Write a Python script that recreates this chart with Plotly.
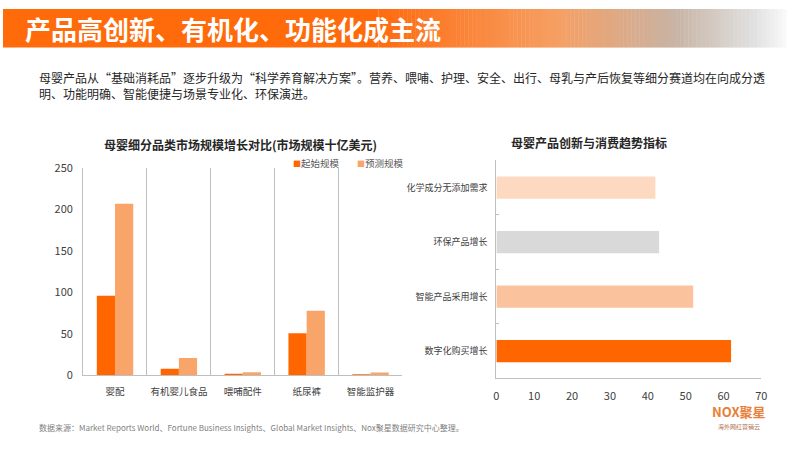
import plotly.graph_objects as go

# ---------------- data ----------------
seg_categories = ["婴配", "有机婴儿食品", "喂哺配件", "纸尿裤", "智能监护器"]
seg_start = [96, 8, 2, 51, 1.5]
seg_forecast = [207, 21, 4, 78, 3.5]
seg_series_names = ["起始规模", "预测规模"]

trend_labels = ["化学成分无添加需求", "环保产品增长", "智能产品采用增长", "数字化购买增长"]
trend_values = [42, 43, 52, 62]
trend_colors = ["#FDD9C1", "#D9D9D9", "#FBC29E", "#FF6600"]

left_yticks = [0, 50, 100, 150, 200, 250]
right_xticks = [0, 10, 20, 30, 40, 50, 60, 70]

FONT = "Noto Sans CJK SC"
C_START = "#FF6600"
C_FORE = "#F9A468"
AX = "#BFBFBF"
TXT = "#404040"

fig = go.Figure()

fig.add_trace(go.Bar(x=seg_categories, y=seg_start, name=seg_series_names[0],
                     marker=dict(color=C_START, line=dict(width=0)),
                     showlegend=False, xaxis="x", yaxis="y"))
fig.add_trace(go.Bar(x=seg_categories, y=seg_forecast, name=seg_series_names[1],
                     marker=dict(color=C_FORE, line=dict(width=0)),
                     showlegend=False, xaxis="x", yaxis="y"))

fig.add_trace(go.Bar(x=trend_values, y=trend_labels, orientation="h",
                     marker=dict(color=trend_colors, line=dict(width=0)),
                     width=0.41, showlegend=False,
                     xaxis="x2", yaxis="y2"))

shapes = []
# header gradient bar (decoration)
stops = [(0, (255, 106, 10)), (390, (255, 110, 20)), (560, (246, 160, 100)),
         (680, (200, 180, 165)), (760, (225, 225, 225)), (792, (250, 250, 250))]
W = 799.0
n_slices = 100
x_start, x_end = 380, 792
shapes.append(dict(type="rect", xref="paper", yref="paper", x0=0, x1=x_start / W,
                   y0=1 - 40 / 450, y1=1, fillcolor="rgb(255,106,10)", line=dict(width=0), layer="below"))
for i in range(n_slices):
    xa = x_start + (x_end - x_start) * i / n_slices
    xb = x_start + (x_end - x_start) * (i + 1) / n_slices
    xm = (xa + xb) / 2
    for j in range(len(stops) - 1):
        if stops[j][0] <= xm <= stops[j + 1][0]:
            t = (xm - stops[j][0]) / (stops[j + 1][0] - stops[j][0])
            c = [int(stops[j][1][k] + (stops[j + 1][1][k] - stops[j][1][k]) * t) for k in range(3)]
            break
    shapes.append(dict(type="rect", xref="paper", yref="paper", x0=xa / W, x1=xb / W + 0.0005,
                       y0=1 - 40 / 450, y1=1, fillcolor=f"rgb({c[0]},{c[1]},{c[2]})",
                       line=dict(width=0), layer="below"))

legend_items = [
    (f"<span style='color:{C_START};font-size:8px'>■</span>{seg_series_names[0]}", 291),
    (f"<span style='color:{C_FORE};font-size:8px'>■</span>{seg_series_names[1]}", 356),
]

annotations = [
    dict(text="<b>产品高创新、有机化、功能化成主流</b>", xref="paper", yref="paper",
         x=20 / W, y=1 - 20 / 450, xanchor="left", yanchor="middle", showarrow=False,
         font=dict(family=FONT, size=26, color="white")),
    dict(text="母婴产品从“基础消耗品”逐步升级为“科学养育解决方案”。营养、喂哺、护理、安全、出行、母乳与产后恢复等细分赛道均在向成分透<br>明、功能明确、智能便捷与场景专业化、环保演进。",
         xref="paper", yref="paper", x=34 / W, y=1 - 79 / 450, xanchor="left", yanchor="middle",
         align="left", showarrow=False, font=dict(family=FONT, size=12, color="#262626")),
    dict(text="<b>母婴细分品类市场规模增长对比(市场规模十亿美元)</b>", xref="paper", yref="paper",
         x=240 / W, y=1 - 140 / 450, xanchor="center", yanchor="middle", showarrow=False,
         font=dict(family=FONT, size=12, color="#262626")),
    dict(text="<b>母婴产品创新与消费趋势指标</b>", xref="paper", yref="paper",
         x=593 / W, y=1 - 138 / 450, xanchor="center", yanchor="middle", showarrow=False,
         font=dict(family=FONT, size=12, color="#262626")),
    dict(text="数据来源：Market Reports World、Fortune Business Insights、Global Market Insights、Nox聚星数据研究中心整理。",
         xref="paper", yref="paper", x=34 / W, y=1 - 434 / 450, xanchor="left", yanchor="middle",
         showarrow=False, font=dict(family=FONT, size=8, color="#7F7F7F")),
    dict(text="<b>NOX聚星</b>", xref="paper", yref="paper", x=744 / W, y=1 - 417 / 450,
         xanchor="center", yanchor="middle", showarrow=False,
         font=dict(family=FONT, size=13, color="#E8803A")),
    dict(text="海外网红营销云", xref="paper", yref="paper", x=744 / W, y=1 - 433 / 450,
         xanchor="center", yanchor="middle", showarrow=False,
         font=dict(family=FONT, size=6, color="#B07050")),
]
for txt, px in legend_items:
    annotations.append(dict(text=txt, xref="paper", yref="paper", x=px / W, y=1 - 160 / 450,
                            xanchor="left", yanchor="middle", showarrow=False,
                            font=dict(family=FONT, size=9.5, color="#595959")))

fig.update_layout(
    width=799, height=450, margin=dict(l=0, r=0, t=0, b=0),
    paper_bgcolor="white", plot_bgcolor="white",
    font=dict(family=FONT, size=10, color=TXT),
    barmode="group", bargap=0.43, bargroupgap=0,
    showlegend=False,
    xaxis=dict(domain=[81 / W, 404 / W], anchor="y", type="category",
               showline=True, linecolor=AX, linewidth=1, tickangle=0,
               tickson="boundaries", ticks="", showgrid=True, gridcolor=AX, gridwidth=1,
               ticklabelstandoff=7,
               tickfont=dict(family=FONT, size=9.5, color=TXT), fixedrange=True),
    yaxis=dict(domain=[1 - 380 / 450, 1 - 165 / 450], anchor="x", range=[0, 250],
               tickvals=left_yticks, showline=True, linecolor=AX, linewidth=1,
               showgrid=False, zeroline=False, ticks="", ticklabelstandoff=7,
               tickfont=dict(family=FONT, size=11, color=TXT)),
    xaxis2=dict(domain=[499 / W, 767 / W], anchor="y2", range=[0, 70], tickvals=right_xticks,
                showline=True, linecolor=AX, linewidth=1, showgrid=False, zeroline=False,
                ticks="", tickangle=0, ticklabelstandoff=7,
                tickfont=dict(family=FONT, size=11, color=TXT)),
    yaxis2=dict(domain=[1 - 383 / 450, 1 - 157 / 450], anchor="x2", type="category",
                categoryorder="array", categoryarray=trend_labels[::-1],
                showline=True, linecolor=AX, linewidth=1, showgrid=False,
                tickson="boundaries", ticks="inside", ticklen=3, tickcolor=AX,
                ticklabelstandoff=6,
                tickfont=dict(family=FONT, size=9, color=TXT)),
    shapes=shapes, annotations=annotations,
)

fig.write_html("out.html")
